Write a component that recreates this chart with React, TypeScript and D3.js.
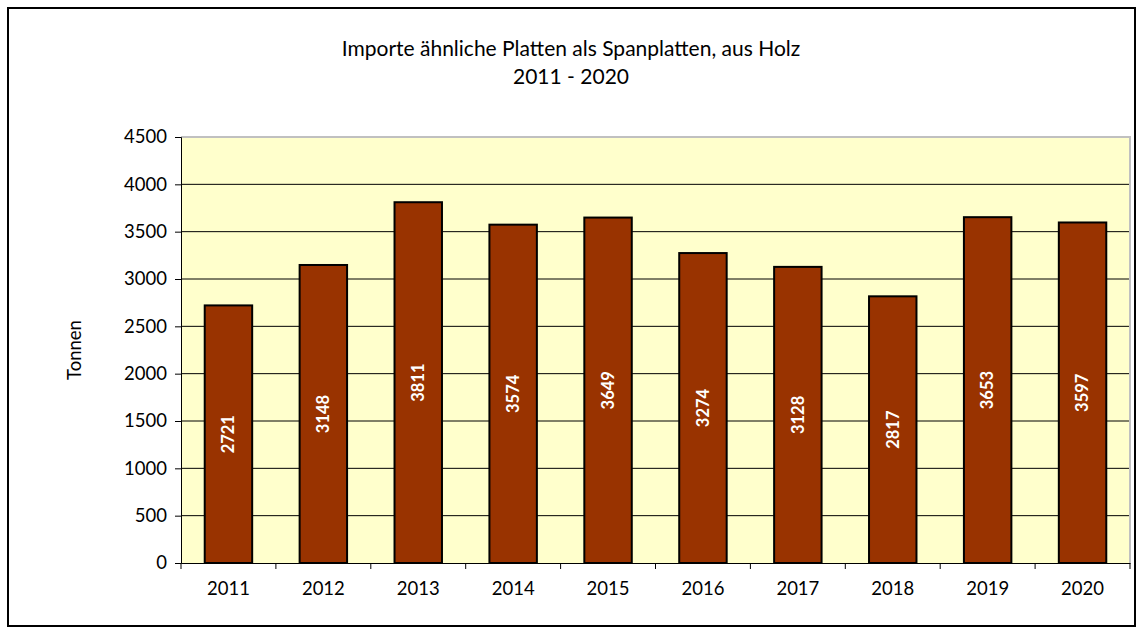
import React, { useEffect, useRef } from 'react';
import * as d3 from 'd3';

const years = ['2011', '2012', '2013', '2014', '2015', '2016', '2017', '2018', '2019', '2020'];
const tonnen = [2721, 3148, 3811, 3574, 3649, 3274, 3128, 2817, 3653, 3597];
const yTicks = [0, 500, 1000, 1500, 2000, 2500, 3000, 3500, 4000, 4500];
const titleLines = ['Importe ähnliche Platten als Spanplatten, aus Holz', '2011 - 2020'];

const W = 1143;
const H = 634;
const FONT = 'Lato, "Open Sans", sans-serif';

const App = () => {
    const svgRef = useRef<SVGSVGElement>(null);

    useEffect(() => {
        const svg = d3.select(svgRef.current);
        svg.selectAll('*').remove();

        const plot = { left: 181, top: 137, right: 1130, bottom: 563 };

        // outer frame
        svg.append('rect')
            .attr('x', 8).attr('y', 8)
            .attr('width', W - 16).attr('height', H - 16)
            .attr('fill', 'white').attr('stroke', 'black').attr('stroke-width', 2);

        const x = d3.scaleBand()
            .domain(years)
            .range([plot.left, plot.right])
            .paddingInner(0.5)
            .paddingOuter(0.25);

        const y = d3.scaleLinear()
            .domain([0, 4500])
            .range([plot.bottom, plot.top]);

        // plot background
        svg.append('rect')
            .attr('x', plot.left).attr('y', plot.top)
            .attr('width', plot.right - plot.left)
            .attr('height', plot.bottom - plot.top)
            .attr('fill', '#FFFFCC');

        // gridlines
        svg.append('g')
            .selectAll('line')
            .data(yTicks.filter(t => t > 0 && t < 4500))
            .enter()
            .append('line')
            .attr('x1', plot.left).attr('x2', plot.right)
            .attr('y1', d => y(d)).attr('y2', d => y(d))
            .attr('stroke', 'black').attr('stroke-width', 1);

        // plot border top/right
        svg.append('path')
            .attr('d', `M${plot.left},${plot.top}H${plot.right}V${plot.bottom}`)
            .attr('fill', 'none').attr('stroke', '#c0c0c0').attr('stroke-width', 2);

        // bars
        svg.append('g')
            .selectAll('rect')
            .data(tonnen)
            .enter()
            .append('rect')
            .attr('x', (d, i) => x(years[i])!)
            .attr('y', d => y(d))
            .attr('width', x.bandwidth())
            .attr('height', d => y(0) - y(d))
            .attr('fill', '#993300')
            .attr('stroke', 'black')
            .attr('stroke-width', 2);

        // value labels
        svg.append('g')
            .selectAll('text')
            .data(tonnen)
            .enter()
            .append('text')
            .attr('transform', (d, i) => {
                const cx = x(years[i])! + x.bandwidth() / 2;
                const cy = (y(d) + y(0)) / 2;
                return `translate(${cx},${cy}) rotate(-90)`;
            })
            .attr('text-anchor', 'middle')
            .attr('dy', '0.35em')
            .style('font-family', FONT)
            .style('font-size', '16.5px')
            .style('font-weight', 'bold')
            .attr('fill', 'white')
            .text(d => d);

        // y axis
        const yAxis = svg.append('g')
            .attr('transform', `translate(${plot.left},0)`)
            .call(d3.axisLeft(y).tickValues(yTicks).tickSize(6).tickPadding(8).tickFormat(d3.format('d')));
        yAxis.select('.domain').attr('stroke', 'black');
        yAxis.selectAll('.tick line').attr('stroke', 'black');
        yAxis.selectAll('text')
            .style('font-family', FONT)
            .style('font-size', '18.5px')
            .attr('fill', 'black');

        // x axis
        const xAxis = svg.append('g')
            .attr('transform', `translate(0,${plot.bottom})`)
            .call(d3.axisBottom(x).tickSize(0).tickPadding(19));
        xAxis.select('.domain').attr('stroke', 'black');
        xAxis.selectAll('text')
            .style('font-family', FONT)
            .style('font-size', '18.5px')
            .attr('fill', 'black');
        // category boundary ticks
        xAxis.append('g')
            .selectAll('line')
            .data(d3.range(years.length + 1))
            .enter()
            .append('line')
            .attr('x1', i => plot.left + i * x.step())
            .attr('x2', i => plot.left + i * x.step())
            .attr('y1', 0).attr('y2', 6)
            .attr('stroke', 'black');

        // y title
        svg.append('text')
            .attr('transform', `translate(81,${(plot.top + plot.bottom) / 2}) rotate(-90)`)
            .attr('text-anchor', 'middle')
            .style('font-family', FONT)
            .style('font-size', '18.5px')
            .text('Tonnen');

        // title
        svg.append('g')
            .selectAll('text')
            .data(titleLines)
            .enter()
            .append('text')
            .attr('x', 571)
            .attr('y', (d, i) => 56 + i * 28)
            .attr('text-anchor', 'middle')
            .style('font-family', FONT)
            .style('font-size', '21px')
            .text(d => d);
    }, []);

    return (
        <svg ref={svgRef} width={W} height={H} style={{ position: 'absolute', left: 0, top: 0 }}></svg>
    );
};

export default App;
